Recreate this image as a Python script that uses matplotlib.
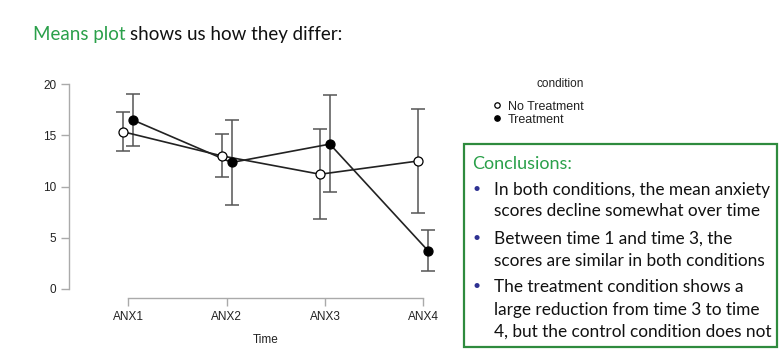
import matplotlib
matplotlib.use("Agg")
import matplotlib.pyplot as plt
from matplotlib.patches import Rectangle
import numpy as np

# ---- data ----
times = ["ANX1", "ANX2", "ANX3", "ANX4"]
no_treat_mean = [15.35, 13.0, 11.2, 12.5]
no_treat_lo = [13.45, 10.9, 6.8, 7.45]
no_treat_hi = [17.25, 15.15, 15.6, 17.6]
treat_mean = [16.5, 12.35, 14.15, 3.7]
treat_lo = [13.95, 8.15, 9.45, 1.7]
treat_hi = [19.1, 16.55, 18.95, 5.7]
yticks = [0, 5, 10, 15, 20]

W, H = 783, 363
fig = plt.figure(figsize=(W / 100, H / 100), dpi=100)

def fx(px):
    return px / W

def fy(py):
    return 1 - py / H

# axes placement
ax = fig.add_axes([69.3 / W, (H - 298.3) / H, (462.6 - 69.3) / W, (298.3 - 74.1) / H])
ax.set_xlim(-0.6, 3.4)
ax.set_ylim(-0.94, 21.0)

x = np.arange(len(times))
off = 0.05
errc = "#555555"

def plot_series(xpos, m, lo, hi, face, label):
    m = np.array(m); lo = np.array(lo); hi = np.array(hi)
    ax.errorbar(xpos, m, yerr=[m - lo, hi - m], fmt="none", ecolor=errc,
                elinewidth=1.1, capsize=5, capthick=1.1, zorder=2)
    ax.plot(xpos, m, color="#222222", lw=1.2, zorder=3)
    ax.plot(xpos, m, ls="none", marker="o", ms=6.5, mfc=face, mec="black",
            mew=0.9, zorder=4, label=label)

plot_series(x - off, no_treat_mean, no_treat_lo, no_treat_hi, "white", "No Treatment")
plot_series(x + off, treat_mean, treat_lo, treat_hi, "black", "Treatment")

for s in ["top", "right"]:
    ax.spines[s].set_visible(False)
ax.spines["left"].set_bounds(0, 20)
ax.spines["bottom"].set_bounds(0, 3)
for s in ["left", "bottom"]:
    ax.spines[s].set_color("#aaaaaa")
    ax.spines[s].set_linewidth(1.0)
ax.set_yticks(yticks)
ax.set_xticks(x)
ax.set_xticklabels(times)
ax.tick_params(axis="both", colors="#aaaaaa", labelcolor="#222222",
               labelsize=8.5, length=6, width=1.0)
ax.tick_params(axis="x", pad=3)
for lab in ax.get_xticklabels() + ax.get_yticklabels():
    lab.set_fontfamily("Liberation Sans")
ax.set_xlabel("Time", fontsize=8.5, family="Liberation Sans", color="#222222", labelpad=8)
ax.patch.set_visible(False)

# legend (title placed separately)
handles, labels = ax.get_legend_handles_labels()
leg = fig.legend(handles, labels, loc="upper left",
                 bbox_to_anchor=(fx(492), fy(100.5)), frameon=False,
                 prop={"family": "Liberation Sans", "size": 9},
                 handlelength=0.8, handletextpad=0.45, labelspacing=0.1,
                 markerscale=0.6, borderaxespad=0, borderpad=0)
for t in leg.get_texts():
    t.set_color("#222222")
fig.text(fx(560), fy(84.3), "condition", family="Liberation Sans", fontsize=8.5,
         color="#222222", ha="center", va="center")

# title
green = "#2aa04a"
tsize = 13.5
t1 = fig.text(fx(33), fy(33), "Means plot ", family="Lato", fontsize=tsize,
              color=green, va="center_baseline", ha="left")
fig.canvas.draw()
bb = t1.get_window_extent()
fig.text(bb.x1 / W, fy(33), "shows us how they differ:", family="Lato",
         fontsize=tsize, color="#111111", va="center_baseline", ha="left")

# conclusions box
fig.add_artist(Rectangle((fx(464), fy(347)), (777 - 464) / W, (347 - 144) / H,
                         transform=fig.transFigure, fill=False,
                         edgecolor="#2e8b3e", linewidth=1.6))
fig.text(fx(472), fy(162), "Conclusions:", family="Lato", fontsize=13,
         color=green, va="center_baseline", ha="left")

lines = [
    ("In both conditions, the mean anxiety", True, 188),
    ("scores decline somewhat over time", False, 210),
    ("Between time 1 and time 3, the", True, 237),
    ("scores are similar in both conditions", False, 259),
    ("The treatment condition shows a", True, 285),
    ("large reduction from time 3 to time", False, 308),
    ("4, but the control condition does not", False, 330),
]
for txt, bullet, ypx in lines:
    if bullet:
        fig.text(fx(472), fy(ypx), "•", family="Lato", fontsize=10,
                 color="#2e3192", va="center_baseline", ha="left")
    fig.text(fx(494), fy(ypx), txt, family="Lato", fontsize=12.4,
             color="#111111", va="center_baseline", ha="left")

fig.savefig("out.png", dpi=100)
